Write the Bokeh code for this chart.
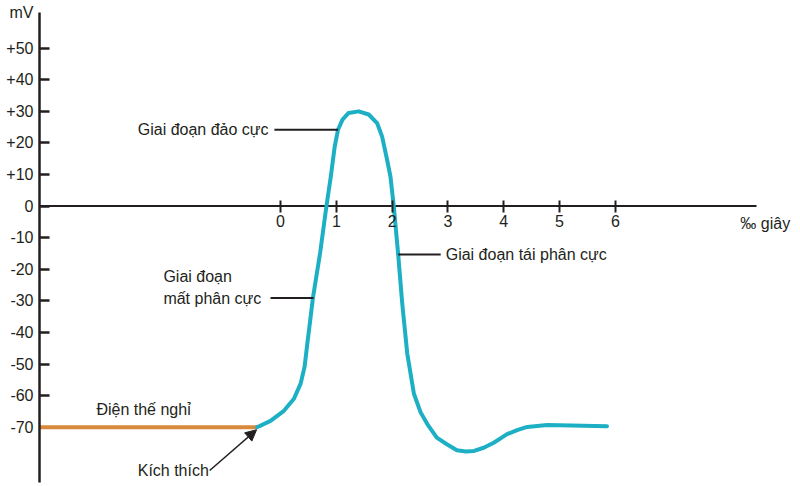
from bokeh.plotting import figure
from bokeh.models import (Range1d, LinearAxis, FixedTicker, Label, Arrow,
                          NormalHead)
from bokeh.embed import file_html
from bokeh.resources import INLINE

# ---- data -----------------------------------------------------------
y_ticks = [-70, -60, -50, -40, -30, -20, -10, 0, 10, 20, 30, 40, 50]
y_tick_labels = ["-70", "-60", "-50", "-40", "-30", "-20", "-10", "0",
                 "+10", "+20", "+30", "+40", "+50"]
y_unit_pos = 61.2
y_unit = "mV"
x_ticks = [0, 1, 2, 3, 4, 5, 6]
x_tick_labels = ["0", "1", "2", "3", "4", "5", "6"]
x_axis_span = [-4.32, 8.53]      # extent of the time axis line
x_unit = "‰ giây"
x_unit_pos = (8.24, -5.65)

rest_t = [-4.32, -0.42]
rest_mv = [-70, -70]

ap_t = [-0.42, -0.18, 0.06, 0.24, 0.36, 0.43, 0.48, 0.51, 0.58, 0.71, 0.82,
        0.90, 0.97, 1.03, 1.11, 1.22, 1.40, 1.58, 1.73, 1.82, 1.91, 1.97,
        2.03, 2.11, 2.18, 2.27, 2.39, 2.51, 2.63, 2.80, 2.98, 3.16, 3.32,
        3.47, 3.64, 3.82, 4.06, 4.24, 4.42, 4.78, 5.85]
ap_mv = [-70, -68.0, -64.8, -61.0, -56.2, -50.9, -43.5, -39.2, -29.1, -14.7,
         -0.3, 9.3, 18.8, 24.2, 27.4, 29.5, 30.0, 29.0, 26.3, 22.0, 14.6, 9.3,
         -0.3, -15.7, -30.7, -46.6, -59.4, -65.3, -69.0, -73.3, -75.4, -77.3,
         -77.7, -77.5, -76.5, -74.9, -72.2, -70.9, -69.9, -69.3, -69.7]

# annotation texts and anchor positions (data units)
ann_text = ["Giai đoạn đảo cực", "Giai đoạn", "mất phân cực",
            "Giai đoạn tái phân cực", "Điện thế nghỉ", "Kích thích"]
ann_x = [-0.215, -2.10, -2.10, 2.96, -3.30, -2.56]
ann_y = [24.3, -22.4, -29.1, -15.3, -64.5, -83.7]
ann_align = ["right", "left", "left", "left", "left", "left"]

lead_x0 = [-0.11, -0.18, 2.11]
lead_x1 = [1.03, 0.59, 2.87]
lead_y = [24.2, -29.1, -15.3]

FONT = "Liberation Sans"
FS = "16px"
INK = "#231F20"
BLUE = "#1DAFC3"
ORANGE = "#D8893B"

p = figure(width=800, height=486,
           x_range=Range1d(-4.32, 9.318), y_range=Range1d(-87.5, 61.3),
           output_backend="svg", toolbar_location=None,
           x_axis_location=None, y_axis_location=None,
           min_border_left=39, min_border_right=0,
           min_border_top=12, min_border_bottom=4)
p.outline_line_color = None
p.xgrid.visible = False
p.ygrid.visible = False
p.background_fill_color = "white"

# y axis: labels from major ticks, marks from minor ticks
y_major = y_ticks + [y_unit_pos]
y_minor = [t for t in y_ticks if t != -70]
yax = LinearAxis(ticker=FixedTicker(ticks=y_major, minor_ticks=y_minor))
ov = {t: l for t, l in zip(y_ticks, y_tick_labels)}
ov[y_unit_pos] = y_unit
yax.major_label_overrides = ov
yax.major_tick_in = 0
yax.major_tick_out = 0
yax.minor_tick_in = 10
yax.minor_tick_out = 0
yax.axis_line_width = 2.5
yax.axis_line_color = INK
yax.minor_tick_line_width = 2.5
yax.minor_tick_line_color = INK
yax.major_label_standoff = 6
yax.major_label_text_font = FONT
yax.major_label_text_font_size = FS
yax.major_label_text_color = INK
p.add_layout(yax, "left")

# time axis line at 0 mV
p.segment(x0=[x_axis_span[0]], y0=[0], x1=[x_axis_span[1]], y1=[0],
          line_color=INK, line_width=2)

# x axis (ticks + labels) at y = 0
xax = LinearAxis(ticker=FixedTicker(ticks=x_ticks, minor_ticks=x_ticks),
                 fixed_location=0)
xax.major_label_overrides = {t: l for t, l in zip(x_ticks, x_tick_labels)}
xax.major_tick_in = 0
xax.major_tick_out = 6
xax.major_tick_line_color = None
xax.minor_tick_in = 6
xax.minor_tick_out = 6
xax.axis_line_color = None
xax.minor_tick_line_width = 2
xax.minor_tick_line_color = INK
xax.major_label_standoff = 3
xax.major_label_text_font = FONT
xax.major_label_text_font_size = FS
xax.major_label_text_color = INK
p.add_layout(xax, "below")

# curves
p.line(rest_t, rest_mv, line_color=ORANGE, line_width=4)
p.line(ap_t, ap_mv, line_color=BLUE, line_width=4,
       line_join="round", line_cap="round")

# leader lines
p.segment(x0=lead_x0, y0=lead_y, x1=lead_x1, y1=lead_y,
          line_color=INK, line_width=2)

# annotation labels
for t, x, y, a in zip(ann_text, ann_x, ann_y, ann_align):
    p.add_layout(Label(x=x, y=y, text=t, text_align=a,
                       text_baseline="middle", text_font=FONT,
                       text_font_size=FS, text_color=INK))

# time unit
p.add_layout(Label(x=x_unit_pos[0], y=x_unit_pos[1], text=x_unit,
                   text_align="left", text_baseline="middle",
                   text_font=FONT, text_font_size=FS, text_color=INK))

# stimulus arrow
p.add_layout(Arrow(end=NormalHead(size=11, fill_color=INK, line_color=INK),
                   x_start=-1.27, y_start=-83.7, x_end=-0.43, y_end=-70.8,
                   line_color=INK, line_width=1.5))

open("out.html", "w").write(file_html(p, INLINE))
